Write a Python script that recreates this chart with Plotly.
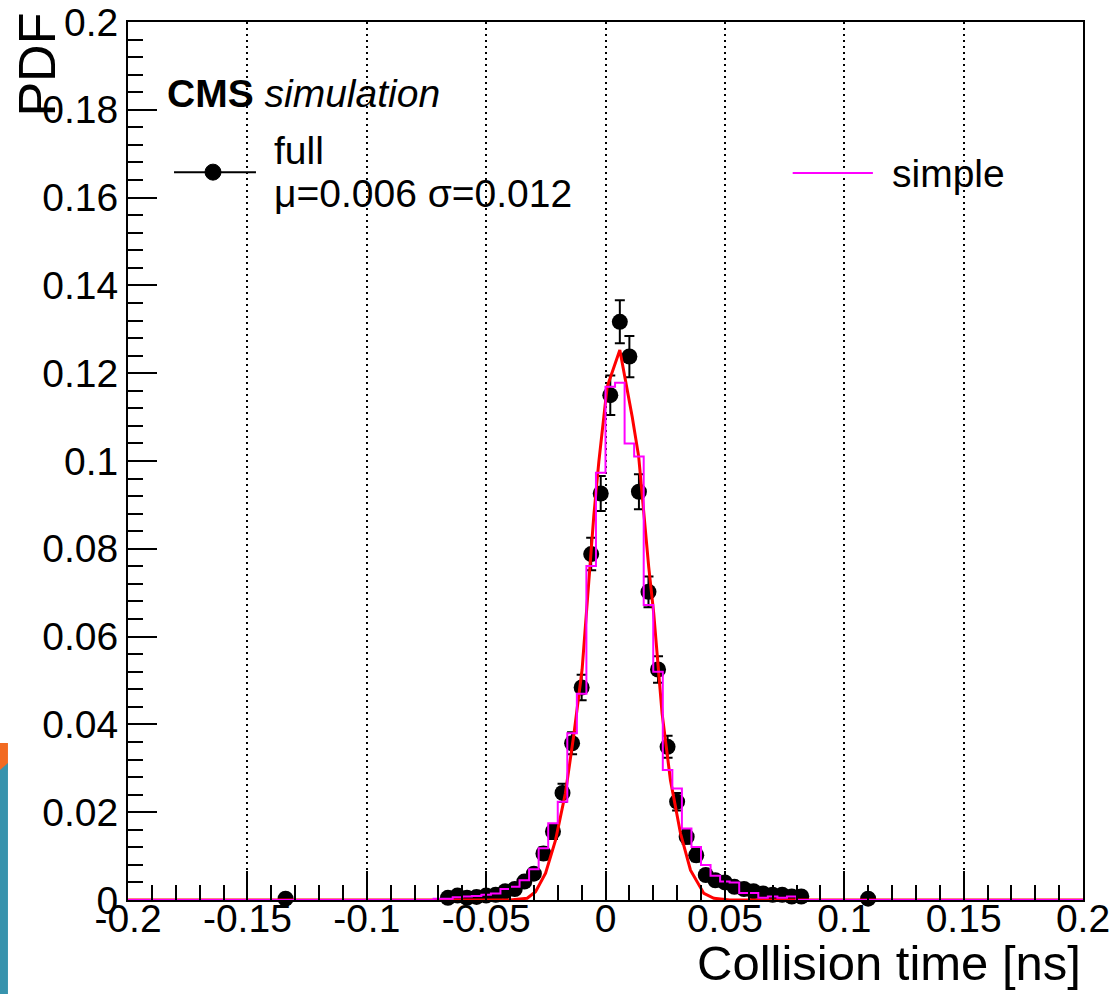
import numpy as np
import plotly.graph_objects as go

# ---------------- data ----------------
# Histogram binning shared by both simulations: 100 bins on [-0.2, 0.2] ns
BIN_LO, BIN_HI, N_BINS = -0.2, 0.2, 100

# "full" simulation: bin centres [ns], PDF values, statistical errors
full_t = [-0.134,
          -0.066, -0.062, -0.058, -0.054, -0.050, -0.046, -0.042, -0.038, -0.034,
          -0.030, -0.026, -0.022, -0.018, -0.014, -0.010, -0.006, -0.002,
          0.002, 0.006, 0.010, 0.014, 0.018, 0.022, 0.026, 0.030, 0.034, 0.038,
          0.042, 0.046, 0.050, 0.054, 0.058, 0.062, 0.066, 0.070, 0.074, 0.078, 0.082,
          0.110]
full_pdf = [0.0003,
            0.0005, 0.0010, 0.0005, 0.0007, 0.0010, 0.0012, 0.0020, 0.0025, 0.0042,
            0.0060, 0.0106, 0.0156, 0.0244, 0.0357, 0.0484, 0.0788, 0.0926,
            0.1150, 0.1317, 0.1238, 0.0930, 0.0702, 0.0525, 0.0349, 0.0224, 0.0144, 0.0102,
            0.0057, 0.0045, 0.0040, 0.0030, 0.0025, 0.0020, 0.0015, 0.0012, 0.0012, 0.0008, 0.0008,
            0.0003]
full_err = [0.0003,
            0.0004, 0.0005, 0.0004, 0.0004, 0.0005, 0.0005, 0.0006, 0.0007, 0.0009,
            0.0010, 0.0014, 0.0017, 0.0021, 0.0025, 0.0029, 0.0037, 0.0040,
            0.0045, 0.0049, 0.0047, 0.0040, 0.0035, 0.0030, 0.0025, 0.0020, 0.0016, 0.0014,
            0.0010, 0.0009, 0.0009, 0.0007, 0.0007, 0.0006, 0.0005, 0.0005, 0.0005, 0.0004, 0.0004,
            0.0003]

# "simple" simulation: contents of consecutive bins, first bin starts at simple_first_edge
simple_first_edge = -0.072
simple_pdf = [0.0003, 0.0003, 0.0006, 0.0008, 0.0009, 0.0012, 0.0015, 0.0025, 0.0030,
              0.0045, 0.0070, 0.0118, 0.0175, 0.0224, 0.0380, 0.0470, 0.0761, 0.0973,
              0.1169, 0.1178, 0.1040, 0.1010, 0.0672, 0.0520, 0.0296, 0.0254, 0.0163,
              0.0121, 0.0080, 0.0055, 0.0042, 0.0040, 0.0016, 0.0016, 0.0005, 0.0008,
              0.0005, 0.0008]

# Gaussian fit curve to "full"
fit_t = [-0.2, -0.040, -0.0328, -0.0293, -0.0251, -0.0209, -0.0168, -0.0133, -0.0098,
         -0.0070, -0.0049, -0.0028, 0.0007, 0.0060, 0.0112, 0.0139, 0.0160, 0.0181,
         0.0202, 0.0237, 0.0272, 0.0314, 0.0356, 0.0412, 0.0454, 0.052, 0.2]
fit_pdf = [0.0, 0.0, 0.0004, 0.0019, 0.0061, 0.0137, 0.0243, 0.0375, 0.0525,
           0.0725, 0.0875, 0.0998, 0.1169, 0.1253, 0.1100, 0.1010, 0.0881, 0.0759,
           0.0653, 0.0425, 0.0273, 0.0152, 0.0068, 0.0015, 0.0004, 0.0, 0.0]

x_tickvals = [-0.2, -0.15, -0.1, -0.05, 0, 0.05, 0.1, 0.15, 0.2]
x_ticktext = ["-0.2", "-0.15", "-0.1", "-0.05", "0", "0.05", "0.1", "0.15", "0.2"]
y_tickvals = [0, 0.02, 0.04, 0.06, 0.08, 0.1, 0.12, 0.14, 0.16, 0.18, 0.2]
y_ticktext = ["0", "0.02", "0.04", "0.06", "0.08", "0.1", "0.12", "0.14", "0.16", "0.18", "0.2"]

x_title = "Collision time [ns]"
y_title = "PDF"
label_full = "full"
label_fit = "\u03bc=0.006 \u03c3=0.012"
label_simple = "simple"

# ---------------- build histogram step line ----------------
bin_w = (BIN_HI - BIN_LO) / N_BINS
edges = np.linspace(BIN_LO, BIN_HI, N_BINS + 1)
contents = np.zeros(N_BINS)
i0 = int(round((simple_first_edge - BIN_LO) / bin_w))
contents[i0:i0 + len(simple_pdf)] = simple_pdf
step_y = np.append(contents, contents[-1])

FONT = "Liberation Sans, Arial, Helvetica, sans-serif"
MAGENTA = "#ff00ff"
RED = "#ff0000"

fig = go.Figure()

fig.add_trace(go.Scatter(
    x=full_t, y=full_pdf, mode="markers", name=label_full,
    marker=dict(color="black", size=16, symbol="circle"),
    error_y=dict(type="data", array=full_err, visible=True, color="black",
                 thickness=2, width=5),
    error_x=dict(type="constant", value=bin_w / 2, visible=True, color="black",
                 thickness=2, width=0),
    cliponaxis=False, showlegend=False,
))
fig.add_trace(go.Scatter(
    x=fit_t, y=fit_pdf, mode="lines", line=dict(color=RED, width=3),
    showlegend=False,
))
fig.add_trace(go.Scatter(
    x=edges, y=step_y, mode="lines", line=dict(color=MAGENTA, width=2, shape="hv"),
    name=label_simple, showlegend=False,
))

axis_common = dict(
    showline=True, linewidth=2, linecolor="black", mirror=True,
    ticks="inside", ticklen=29, tickwidth=2, tickcolor="black",
    tickfont=dict(family=FONT, size=39, color="black"),
    zeroline=False, automargin=False,
)

fig.update_xaxes(
    **axis_common,
    range=[BIN_LO, BIN_HI], tickmode="array", tickvals=x_tickvals, ticktext=x_ticktext,
    ticklabelstandoff=-17,
    showgrid=True, gridcolor="black", gridwidth=1.6, griddash="2px,4px",
    minor=dict(ticks="inside", ticklen=15, tickwidth=2, tickcolor="black",
               tickmode="linear", tick0=-0.2, dtick=0.01, showgrid=False),
)
fig.update_yaxes(
    **axis_common,
    range=[0, 0.2], tickmode="array", tickvals=y_tickvals, ticktext=y_ticktext,
    showgrid=False,
    minor=dict(ticks="inside", ticklen=15, tickwidth=2, tickcolor="black",
               tickmode="linear", tick0=0, dtick=0.004, showgrid=False),
)

annotations = [
    dict(text=x_title, xref="paper", yref="paper", x=1.0, y=-0.0716,
         xanchor="right", yanchor="middle", showarrow=False,
         font=dict(family=FONT, size=49, color="black")),
    dict(text=y_title, xref="paper", yref="paper", x=-0.0953, y=1.013,
         xanchor="center", yanchor="top", textangle=-90, showarrow=False,
         font=dict(family=FONT, size=52, color="black")),
    dict(text="<b>CMS</b> <i>simulation</i>", xref="paper", yref="paper",
         x=0.0387, y=0.919, xanchor="left", yanchor="middle", showarrow=False,
         font=dict(family=FONT, size=39, color="black")),
    dict(text=label_full, xref="paper", yref="paper", x=0.1508, y=0.854,
         xanchor="left", yanchor="middle", showarrow=False,
         font=dict(family=FONT, size=39, color="black")),
    dict(text=label_fit, xref="paper", yref="paper", x=0.1508, y=0.805,
         xanchor="left", yanchor="middle", showarrow=False,
         font=dict(family=FONT, size=39, color="black")),
    dict(text=label_simple, xref="paper", yref="paper", x=0.798, y=0.828,
         xanchor="left", yanchor="middle", showarrow=False,
         font=dict(family=FONT, size=39, color="black")),
]

shapes = [
    # legend glyph: full (line + marker)
    dict(type="line", xref="paper", yref="paper", x0=0.0482, x1=0.134, y0=0.829, y1=0.829,
         line=dict(color="black", width=2)),
    dict(type="circle", xref="paper", yref="paper", xsizemode="pixel", ysizemode="pixel",
         xanchor=0.089, yanchor=0.829, x0=-8, x1=8, y0=-8, y1=8,
         fillcolor="black", line=dict(color="black", width=1)),
    # legend glyph: simple
    dict(type="line", xref="paper", yref="paper", x0=0.696, x1=0.780, y0=0.828, y1=0.828,
         line=dict(color=MAGENTA, width=2)),
    # slide decoration at the lower-left edge
    dict(type="rect", xref="paper", yref="paper", x0=-0.1341, x1=-0.1257, y0=0.1475, y1=0.1788,
         fillcolor="#f26a21", line=dict(width=0), layer="above"),
    dict(type="path", xref="paper", yref="paper",
         path="M -0.1341 0.1481 L -0.1257 0.1560 L -0.1257 -0.108 L -0.1341 -0.108 Z",
         fillcolor="#3793ad", line=dict(width=0), layer="above"),
]

fig.update_layout(
    width=1117, height=994, autosize=False,
    margin=dict(l=128, r=34, t=22, b=94, pad=0),
    paper_bgcolor="white", plot_bgcolor="white",
    font=dict(family=FONT, color="black"),
    annotations=annotations, shapes=shapes,
    showlegend=False,
)

fig.write_html(
    "out.html",
    config={"displayModeBar": False},
    post_script="document.body.style.margin='0px';document.body.style.overflow='hidden';",
)
